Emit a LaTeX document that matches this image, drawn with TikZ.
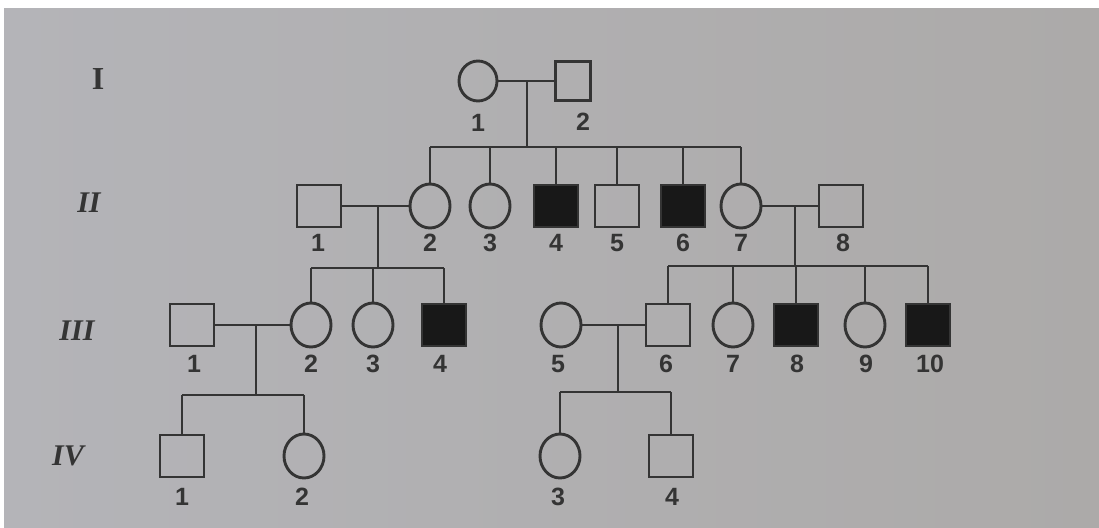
\documentclass[tikz,border=0pt]{standalone}
\usepackage{fontspec}
\setmainfont{Liberation Serif}
\newfontfamily\numfont{Liberation Sans}
\usetikzlibrary{shapes.geometric}
\definecolor{paperL}{RGB}{180,180,184}
\definecolor{paperR}{RGB}{172,170,169}
\definecolor{ink}{RGB}{52,52,52}
\definecolor{solid}{RGB}{24,24,24}
\begin{document}
\begin{tikzpicture}[x=1pt,y=-1pt,
  male/.style={draw=ink, line width=2.9pt, rectangle, minimum width=44pt, minimum height=42pt, inner sep=0pt},
  female/.style={draw=ink, line width=2.9pt, ellipse, minimum width=40pt, minimum height=44pt, inner sep=0pt},
  hit/.style={fill=solid},
  num/.style={font=\numfont\bfseries\fontsize{25}{25}\selectfont, text=ink, inner sep=0pt},
  gen/.style={font=\bfseries\fontsize{32}{32}\selectfont, text=ink, inner sep=0pt},
  genit/.style={gen, font=\bfseries\itshape\fontsize{30}{30}\selectfont},
  link/.style={draw=ink, line width=2.9pt}]
% paper
\fill[white] (0,0) rectangle (1099,527);
\shade[left color=paperL, right color=paperR] (4,9) rectangle (1099,527);
\useasboundingbox (0,0) rectangle (1099,527);

% generation numerals
\node[gen]   (gI)   at (98,79)  {I};
\node[genit] (gII)  at (89,203) {II};
\node[genit] (gIII) at (77,331) {III};
\node[genit] (gIV)  at (68,456) {IV};

% generation I
\node[female,minimum width=38pt,minimum height=40pt] (I1) at (478,81) {};
\node[male,minimum width=35pt,minimum height=39pt] (I2) at (573,81) {};
\node[num] (lI1) at (478,123) {1};
\node[num] (lI2) at (583,122) {2};

% generation II
\node[male]       (II1) at (319,206) {};
\node[female]     (II2) at (430,206) {};
\node[female]     (II3) at (490,206) {};
\node[male,hit]   (II4) at (556,206) {};
\node[male]       (II5) at (617,206) {};
\node[male,hit]   (II6) at (683,206) {};
\node[female]     (II7) at (741,206) {};
\node[male]       (II8) at (841,206) {};
\foreach \n/\x in {1/318,2/430,3/490,4/556,5/617,6/683,7/741,8/843}
  \node[num] (lII\n) at (\x,243) {\n};

% generation III
\node[male]       (III1)  at (192,325) {};
\node[female]     (III2)  at (311,325) {};
\node[female]     (III3)  at (373,325) {};
\node[male,hit]   (III4)  at (444,325) {};
\node[female]     (III5)  at (561,325) {};
\node[male]       (III6)  at (668,325) {};
\node[female]     (III7)  at (733,325) {};
\node[male,hit]   (III8)  at (796,325) {};
\node[female]     (III9)  at (865,325) {};
\node[male,hit]   (III10) at (928,325) {};
\foreach \n/\x in {1/194,2/311,3/373,4/440,5/558,6/666,7/733,8/797,9/866,10/930}
  \node[num] (lIII\n) at (\x,364) {\n};

% generation IV
\node[male]   (IV1) at (182,456) {};
\node[female] (IV2) at (304,456) {};
\node[female] (IV3) at (560,456) {};
\node[male]   (IV4) at (671,456) {};
\foreach \n/\x in {1/182,2/302,3/558,4/672}
  \node[num] (lIV\n) at (\x,497) {\n};

% mating lines and descent points
\coordinate (mI)    at (527,81);
\coordinate (sI)    at (527,147);
\coordinate (mII)   at (378,206);
\coordinate (sII)   at (378,268);
\coordinate (mII7)  at (795,206);
\coordinate (sII7)  at (795,266);
\coordinate (mIII)  at (256,325);
\coordinate (sIII)  at (256,395);
\coordinate (mIII5) at (618,325);
\coordinate (sIII5) at (618,392);

\draw[link] (I1) -- (I2);
\draw[link] (mI) -- (sI);
\draw[link] (II2.north |- sI) -- (II7.north |- sI);
\foreach \c in {II2,II3,II4,II5,II6,II7}
  \draw[link] (\c.north |- sI) -- (\c.north);

\draw[link] (II1) -- (II2);
\draw[link] (mII) -- (sII);
\draw[link] (III2.north |- sII) -- (III4.north |- sII);
\foreach \c in {III2,III3,III4}
  \draw[link] (\c.north |- sII) -- (\c.north);

\draw[link] (II7) -- (II8);
\draw[link] (mII7) -- (sII7);
\draw[link] (III6.north |- sII7) -- (III10.north |- sII7);
\foreach \c in {III6,III7,III8,III9,III10}
  \draw[link] (\c.north |- sII7) -- (\c.north);

\draw[link] (III1) -- (III2);
\draw[link] (mIII) -- (sIII);
\draw[link] (IV1.north |- sIII) -- (IV2.north |- sIII);
\foreach \c in {IV1,IV2}
  \draw[link] (\c.north |- sIII) -- (\c.north);

\draw[link] (III5) -- (III6);
\draw[link] (mIII5) -- (sIII5);
\draw[link] (IV3.north |- sIII5) -- (IV4.north |- sIII5);
\foreach \c in {IV3,IV4}
  \draw[link] (\c.north |- sIII5) -- (\c.north);
\end{tikzpicture}
\end{document}
